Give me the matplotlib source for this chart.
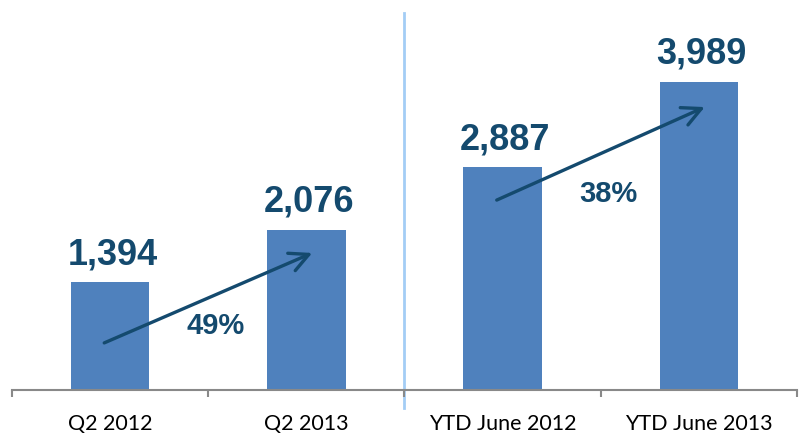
import matplotlib
matplotlib.use("Agg")
import matplotlib.pyplot as plt

# chart data
categories = ["Q2 2012", "Q2 2013", "YTD June 2012", "YTD June 2013"]
values = [1394, 2076, 2887, 3989]
value_labels = ["1,394", "2,076", "2,887", "3,989"]

# growth arrows: (from bar, to bar) and where the arrow starts / ends in y
pairs = [(0, 1), (2, 3)]
arrow_start_y = [610, 2460]
arrow_end_y = [1775, 3665]
pct_label_y = [830, 2540]

bar_color = "#4F81BD"
text_color = "#144A6E"

fig = plt.figure(figsize=(8.04, 4.36), dpi=100)
ax = fig.add_axes([12 / 804, 46 / 436, 785 / 804, 380 / 436])

x = range(len(categories))
ax.bar(x, values, width=0.40, color=bar_color, zorder=2)

for i, v in enumerate(values):
    ax.annotate(value_labels[i], (i, v), xytext=(2, 13), textcoords="offset points",
                ha="center", va="baseline", fontsize=26, fontweight="bold",
                color=text_color, family="Liberation Sans")

for k, (a, b) in enumerate(pairs):
    ax.annotate("", xy=(b + 0.03, arrow_end_y[k]), xytext=(a - 0.03, arrow_start_y[k]),
                arrowprops=dict(arrowstyle="->", color=text_color, lw=2.4,
                                mutation_scale=34, shrinkA=0, shrinkB=0), zorder=3)
    pct = round((values[b] / values[a] - 1) * 100)
    ax.text((a + b) / 2 + 0.04, pct_label_y[k], f"{pct}%", ha="center", va="center",
            fontsize=21, fontweight="bold", color=text_color, family="Liberation Sans")

ax.set_xlim(-0.5, 3.5)
ax.set_ylim(0, 4922)

# divider between quarter and year-to-date
ax.axvline(1.5, ymin=-0.047, ymax=0.992, color="#A3CDF5", lw=2, clip_on=False, zorder=1)

for s in ["left", "right", "top"]:
    ax.spines[s].set_visible(False)
ax.spines["bottom"].set_color("#898989")
ax.spines["bottom"].set_linewidth(1.5)
ax.set_yticks([])

ax.set_xticks([-0.5, 0.5, 1.5, 2.5, 3.5])
ax.set_xticklabels([])
ax.tick_params(axis="x", which="major", length=5, width=1.5, color="#898989", direction="out")
ax.set_xticks(list(x), minor=True)
ax.set_xticklabels(categories, minor=True, fontsize=15.5, family="Lato", color="black")
ax.tick_params(axis="x", which="minor", length=0, pad=17)

fig.savefig("out.png", dpi=100)
